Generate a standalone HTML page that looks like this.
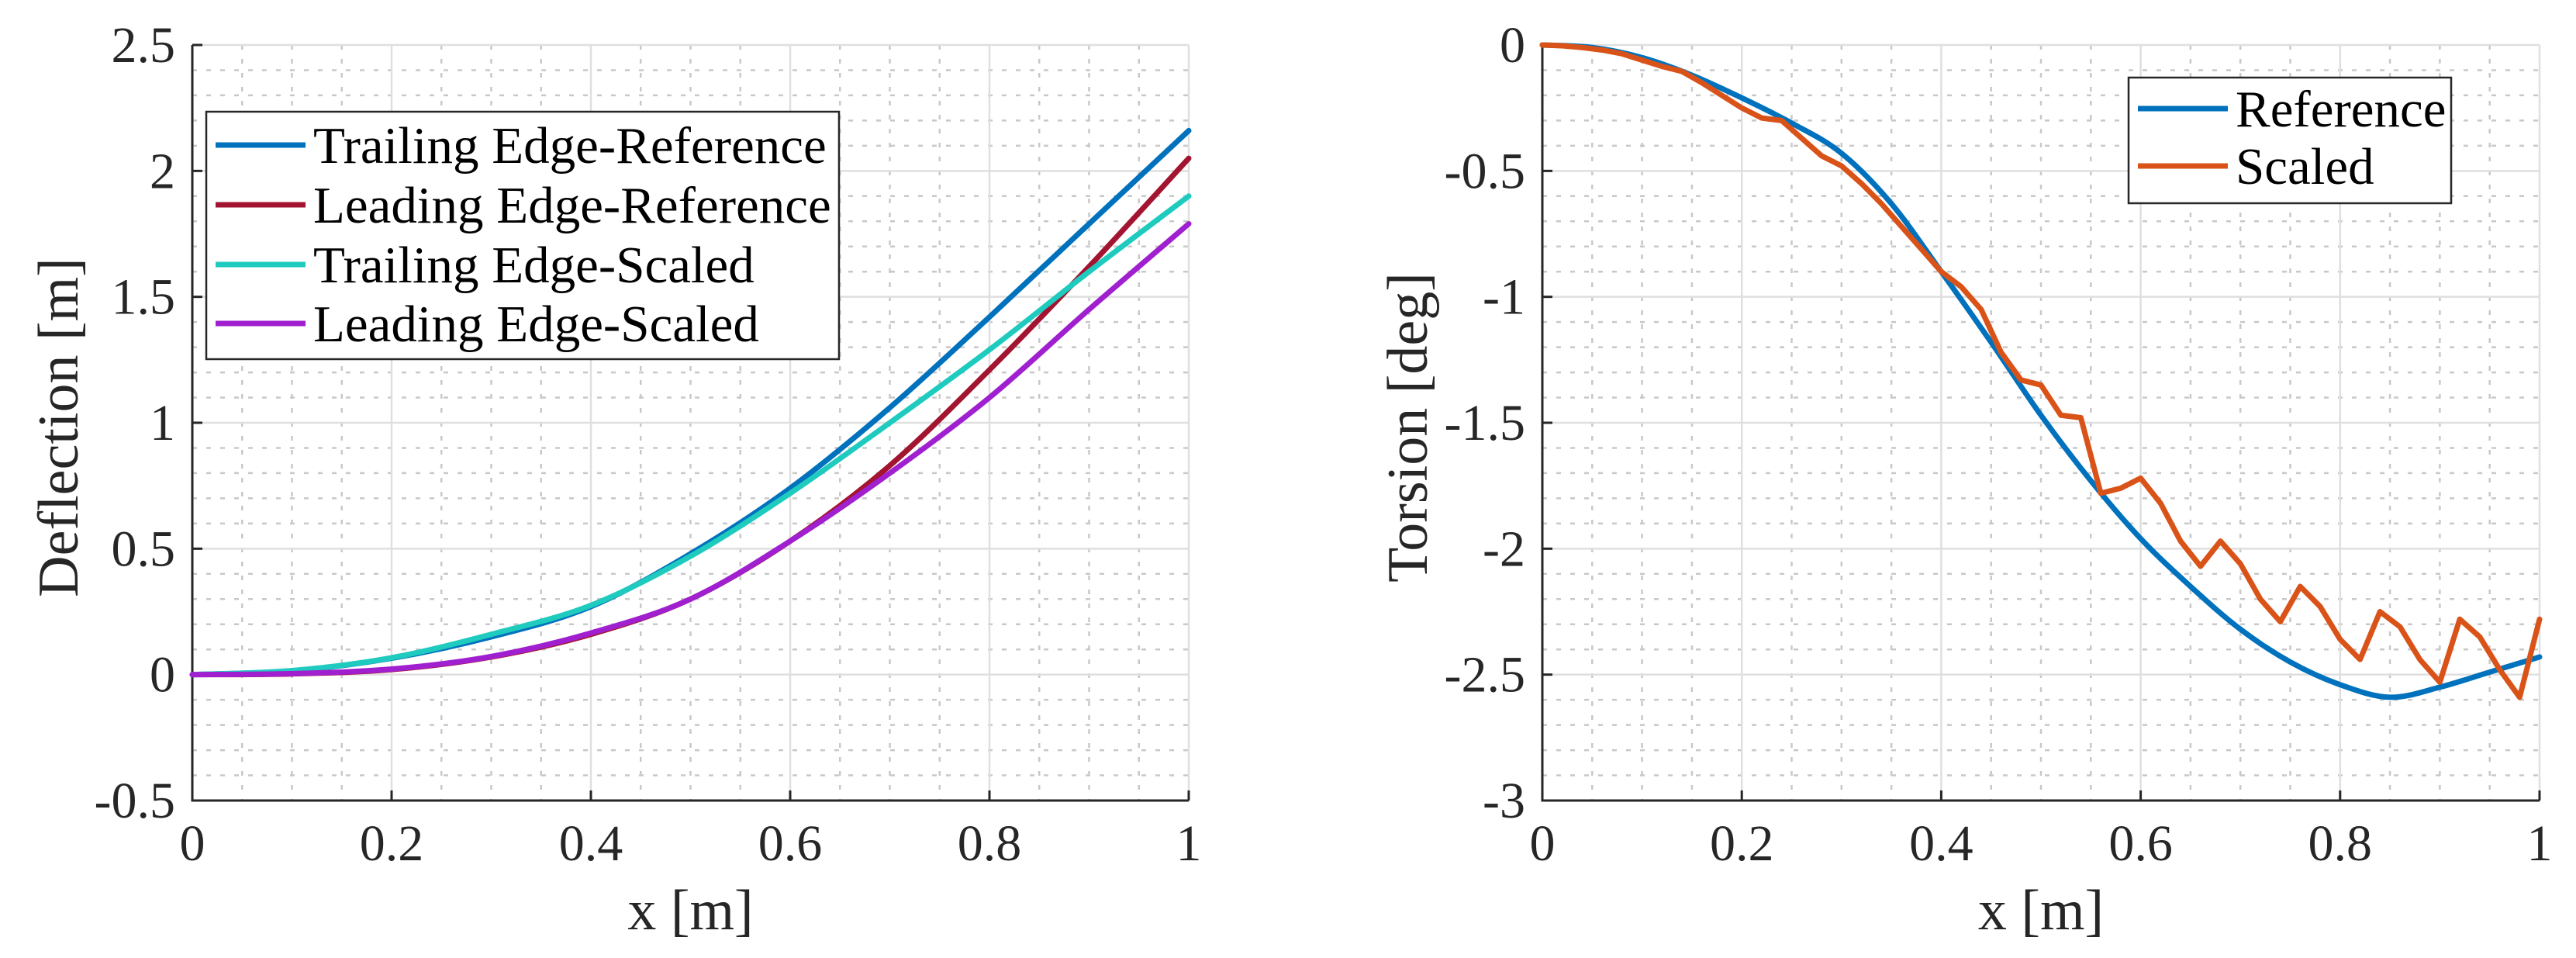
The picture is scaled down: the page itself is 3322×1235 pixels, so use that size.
<!DOCTYPE html>
<html><head><meta charset="utf-8"><style>
html,body{margin:0;padding:0;background:#fff;}
svg{display:block;font-family:"Liberation Serif",serif;}
</style></head><body>
<svg id="fig" width="3322" height="1235" viewBox="0 0 3322 1235" xmlns="http://www.w3.org/2000/svg"></svg>
<script>
// ---- Left chart data (Deflection) ----
const defX = [0,0.1,0.2,0.3,0.4,0.5,0.6,0.7,0.8,0.9,1.0];
const trailingRef = [0,0.015,0.065,0.15,0.27,0.48,0.74,1.06,1.42,1.79,2.16];
const leadingRef = [0,0.003,0.02,0.07,0.16,0.30,0.53,0.83,1.21,1.62,2.05];
const trailingScaled = [0,0.016,0.067,0.16,0.275,0.47,0.72,1.0,1.29,1.6,1.9];
const leadingScaled = [0,0.004,0.022,0.072,0.165,0.30,0.53,0.80,1.10,1.45,1.79];
const leftYTicks = ["-0.5","0","0.5","1","1.5","2","2.5"];
const xTickLabels = ["0","0.2","0.4","0.6","0.8","1"];
// ---- Right chart data (Torsion) ----
const torRefX = [0,0.05,0.1,0.15,0.2,0.25,0.3,0.35,0.4,0.45,0.5,0.55,0.6,0.65,0.7,0.75,0.8,0.85,0.9,0.95,1.0];
const torRef = [0,-0.01,-0.05,-0.12,-0.21,-0.31,-0.43,-0.63,-0.90,-1.18,-1.47,-1.73,-1.96,-2.15,-2.32,-2.45,-2.54,-2.59,-2.55,-2.49,-2.43];
const torScaledX = [0,0.02,0.04,0.06,0.08,0.1,0.12,0.14,0.16,0.18,0.2,0.22,0.24,0.26,0.28,0.3,0.32,0.34,0.36,0.38,0.4,0.42,0.44,0.46,0.48,0.5,0.52,0.54,0.56,0.58,0.6,0.62,0.64,0.66,0.68,0.7,0.72,0.74,0.76,0.78,0.8,0.82,0.84,0.86,0.88,0.9,0.92,0.94,0.96,0.98,1.0];
const torScaled = [0,-0.003,-0.01,-0.02,-0.035,-0.06,-0.085,-0.105,-0.15,-0.2,-0.25,-0.29,-0.30,-0.37,-0.44,-0.48,-0.55,-0.63,-0.72,-0.81,-0.90,-0.96,-1.05,-1.22,-1.33,-1.35,-1.47,-1.48,-1.78,-1.76,-1.72,-1.82,-1.97,-2.07,-1.97,-2.06,-2.2,-2.29,-2.15,-2.23,-2.36,-2.44,-2.25,-2.31,-2.44,-2.53,-2.28,-2.35,-2.48,-2.59,-2.28];
const rightYTicks = ["-3","-2.5","-2","-1.5","-1","-0.5","0"];

const NS="http://www.w3.org/2000/svg";
const svg=document.getElementById('fig');
function mk(tag,attrs,parent){const e=document.createElementNS(NS,tag);for(const k in attrs)e.setAttribute(k,attrs[k]);(parent||svg).appendChild(e);return e;}

function spline(pts){
  let d="M"+pts[0][0]+","+pts[0][1];
  for(let i=0;i<pts.length-1;i++){
    const p0=pts[Math.max(0,i-1)],p1=pts[i],p2=pts[i+1],p3=pts[Math.min(pts.length-1,i+2)];
    const c1=[p1[0]+(p2[0]-p0[0])/6,p1[1]+(p2[1]-p0[1])/6];
    const c2=[p2[0]-(p3[0]-p1[0])/6,p2[1]-(p3[1]-p1[1])/6];
    d+=" C"+c1[0]+","+c1[1]+" "+c2[0]+","+c2[1]+" "+p2[0]+","+p2[1];
  }
  return d;
}

function axes(name,L,R,T,B,ymin,ymax,yTicks){
  const g=mk('g',{});
  
  
  const sx=v=>L+(R-L)*v, sy=v=>B-(B-T)*(v-ymin)/(ymax-ymin);
  for(let i=1;i<20;i++){ if(i%4===0) continue; const x=sx(i*0.05);
    const l=mk('line',{x1:x,x2:x,y1:T,y2:B,stroke:'#c8c8c8','stroke-width':2.5,'stroke-dasharray':'6,12'},g);
    
    }
  const n=Math.round((ymax-ymin)/0.1);
  for(let i=1;i<n;i++){ if(i%5===0) continue; const y=sy(ymin+i*0.1);
    const l=mk('line',{x1:L,x2:R,y1:y,y2:y,stroke:'#c8c8c8','stroke-width':2.5,'stroke-dasharray':'6,12'},g);
    
    }
  for(let i=1;i<=5;i++){const x=sx(i*0.2);
    const l=mk('line',{x1:x,x2:x,y1:T,y2:B,stroke:'#dfdfdf','stroke-width':2.5},g);
    
    }
  for(let i=1;i<yTicks.length;i++){const y=sy(parseFloat(yTicks[i]));
    const l=mk('line',{x1:L,x2:R,y1:y,y2:y,stroke:'#dfdfdf','stroke-width':2.5},g);
    
    }
  const ax=mk('path',{d:`M${L},${T} L${L},${B} L${R},${B}`,fill:'none',stroke:'#262626','stroke-width':3},g);
  
  
  xTickLabels.forEach((t,i)=>{const x=sx(i*0.2);
    const tk=mk('line',{x1:x,x2:x,y1:B,y2:B-13,stroke:'#262626','stroke-width':3},g);
    
    
    const tx=mk('text',{x:x,y:B+77,'font-size':66,'text-anchor':'middle',fill:'#262626'},g);
    tx.textContent=t;
    
    });
  yTicks.forEach(t=>{const y=sy(parseFloat(t));
    const tk=mk('line',{x1:L,x2:L+13,y1:y,y2:y,stroke:'#262626','stroke-width':3},g);
    
    
    const tx=mk('text',{x:L-22,y:y+22,'font-size':66,'text-anchor':'end',fill:'#262626'},g);
    tx.textContent=t;
    
    });
  const xl=mk('text',{x:(L+R)/2,y:1198,'font-size':74,'text-anchor':'middle',fill:'#262626'},g);
  xl.textContent='x [m]';
  
  
  return {g,sx,sy};
}

function series(ax,xs,ys,color,name,smooth){
  const pts=xs.map((x,i)=>[ax.sx(x),ax.sy(ys[i])]);
  const d=smooth?spline(pts):"M"+pts.map(p=>p[0]+","+p[1]).join(" L");
  const p=mk('path',{d:d,fill:'none',stroke:color,'stroke-width':7,'stroke-linejoin':'round','stroke-linecap':'round'},ax.g);
  
  
}

function legend(ax,x,y,w,h,entries,name){
  const lg=mk('g',{},ax.g);
  
  
  mk('rect',{x:x,y:y,width:w,height:h,fill:'#fff',stroke:'#262626','stroke-width':2.5},lg);
  entries.forEach((e)=>{const cy=e[2];
    const l=mk('line',{x1:x+12,x2:x+128,y1:cy,y2:cy,stroke:e[1],'stroke-width':7},lg);
    
    
    const t=mk('text',{x:x+138,y:cy+23,'font-size':67,fill:'#000'},lg);
    t.textContent=e[0];
    
    });
}

const A=axes('deflection-chart',248,1533,58,1032,-0.5,2.5,leftYTicks);
series(A,defX,trailingRef,'#0072BD','trailing-edge-reference-line',true);
series(A,defX,leadingRef,'#A2142F','leading-edge-reference-line',true);
series(A,defX,trailingScaled,'#1ECBBE','trailing-edge-scaled-line',true);
series(A,defX,leadingScaled,'#A020D0','leading-edge-scaled-line',true);
const yl1=mk('text',{x:0,y:0,'font-size':74,'text-anchor':'middle',fill:'#262626',transform:'translate(100,551) rotate(-90)'},A.g);
yl1.textContent='Deflection [m]';


legend(A,266,144,816,319,[["Trailing Edge-Reference",'#0072BD',187],["Leading Edge-Reference",'#A2142F',264],["Trailing Edge-Scaled",'#1ECBBE',341],["Leading Edge-Scaled",'#A020D0',417]],'deflection-legend');

const B=axes('torsion-chart',1989,3275,58,1032,-3,0,rightYTicks);
series(B,torRefX,torRef,'#0072BD','torsion-reference-line',true);
series(B,torScaledX,torScaled,'#D95319','torsion-scaled-line',false);
const yl2=mk('text',{x:0,y:0,'font-size':74,'text-anchor':'middle',fill:'#262626',transform:'translate(1840,551) rotate(-90)'},B.g);
yl2.textContent='Torsion [deg]';


legend(B,2745,100,416,162,[["Reference",'#0072BD',140],["Scaled",'#D95319',214]],'torsion-legend');
</script>
</body></html>
